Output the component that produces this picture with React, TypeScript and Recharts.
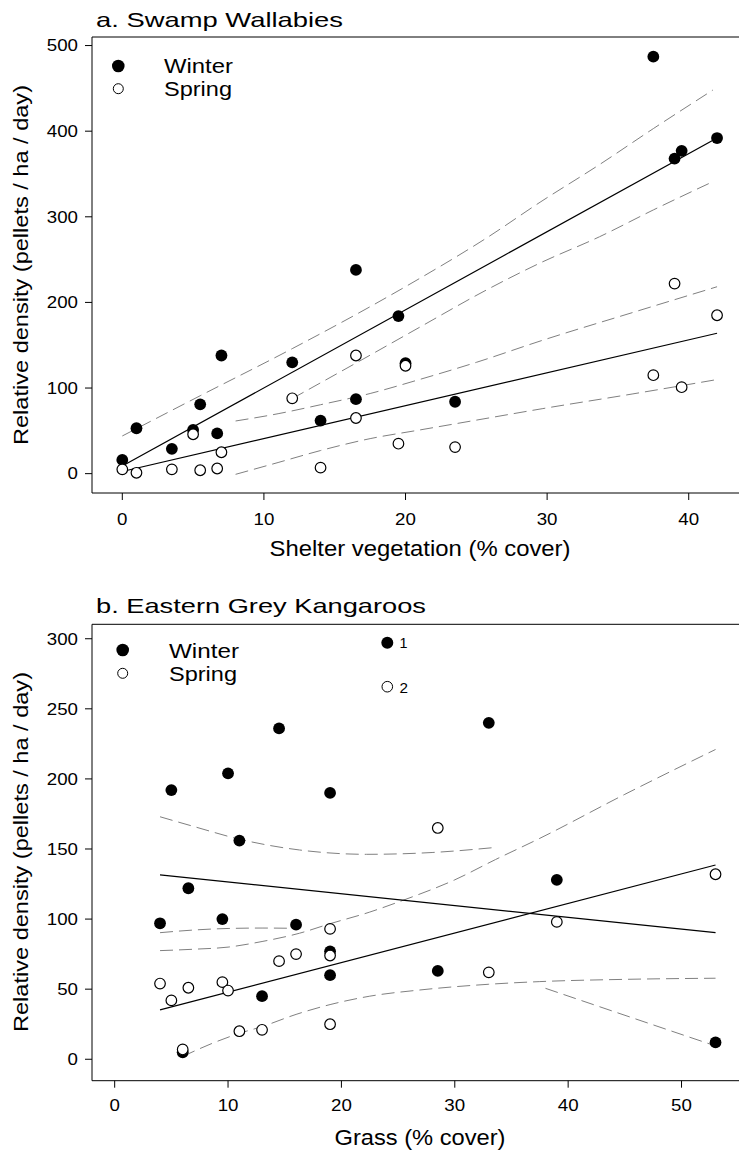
import React from "react";
import { ComposedChart, Scatter, Line, XAxis, YAxis, ReferenceLine } from "recharts";

type Pt = { x: number; y: number };

// a. Swamp Wallabies (x = shelter vegetation % cover, y = pellets / ha / day)
const wallabyWinter: Pt[] = [
  { x: 0, y: 16 }, { x: 1, y: 53 }, { x: 3.5, y: 29 }, { x: 5, y: 51 }, { x: 5.5, y: 81 },
  { x: 6.7, y: 47 }, { x: 7, y: 138 }, { x: 12, y: 130 }, { x: 14, y: 62 }, { x: 16.5, y: 87 },
  { x: 16.5, y: 238 }, { x: 19.5, y: 184 }, { x: 20, y: 129 }, { x: 23.5, y: 84 },
  { x: 37.5, y: 487 }, { x: 39, y: 368 }, { x: 39.5, y: 377 }, { x: 42, y: 392 },
];
const wallabySpring: Pt[] = [
  { x: 0, y: 5 }, { x: 1, y: 1 }, { x: 3.5, y: 5 }, { x: 5, y: 46 }, { x: 5.5, y: 4 },
  { x: 6.7, y: 6 }, { x: 7, y: 25 }, { x: 12, y: 88 }, { x: 14, y: 7 }, { x: 16.5, y: 65 },
  { x: 16.5, y: 138 }, { x: 19.5, y: 35 }, { x: 20, y: 126 }, { x: 23.5, y: 31 },
  { x: 37.5, y: 115 }, { x: 39, y: 222 }, { x: 39.5, y: 101 }, { x: 42, y: 185 },
];
const wallabyWinterFit: Pt[] = [{ x: 0, y: 9 }, { x: 42, y: 392 }];
const wallabySpringFit: Pt[] = [{ x: 0, y: 2.5 }, { x: 42, y: 164 }];
const wallabyWinterUpper: Pt[] = [
  { x: 0, y: 44 }, { x: 5.5, y: 91 }, { x: 12, y: 146 }, { x: 17.5, y: 195 }, { x: 21, y: 228 },
  { x: 25.7, y: 275 }, { x: 29.5, y: 317 }, { x: 33.7, y: 361 }, { x: 37.5, y: 403 }, { x: 41.7, y: 448 },
];
const wallabyWinterLower: Pt[] = [
  { x: 12, y: 87.7 }, { x: 17.5, y: 138.4 }, { x: 21, y: 171 }, { x: 25.7, y: 214.4 },
  { x: 29.5, y: 246 }, { x: 33.7, y: 276.7 }, { x: 37.5, y: 308 }, { x: 41.7, y: 341 },
];
const wallabySpringUpper: Pt[] = [
  { x: 8, y: 61.5 }, { x: 11, y: 70 }, { x: 14, y: 80.5 }, { x: 17.5, y: 93.6 }, { x: 21, y: 110 },
  { x: 25, y: 130 }, { x: 29.7, y: 155.9 }, { x: 36, y: 188 }, { x: 42, y: 218.3 },
];
const wallabySpringLower: Pt[] = [
  { x: 8, y: -0.8 }, { x: 11, y: 13 }, { x: 14, y: 27 }, { x: 17.5, y: 40.9 }, { x: 21, y: 51 },
  { x: 25, y: 62.5 }, { x: 29.7, y: 76 }, { x: 36, y: 93 }, { x: 42, y: 109.9 },
];
const wallabyXTicks = [0, 10, 20, 30, 40];
const wallabyYTicks = [0, 100, 200, 300, 400, 500];

// b. Eastern Grey Kangaroos (x = grass % cover)
const rooWinter: Pt[] = [
  { x: 4, y: 97 }, { x: 5, y: 192 }, { x: 6, y: 5 }, { x: 6.5, y: 122 }, { x: 9.5, y: 100 },
  { x: 10, y: 204 }, { x: 11, y: 156 }, { x: 13, y: 45 }, { x: 14.5, y: 236 }, { x: 16, y: 96 },
  { x: 19, y: 190 }, { x: 19, y: 77 }, { x: 19, y: 60 }, { x: 28.5, y: 63 }, { x: 33, y: 240 },
  { x: 39, y: 128 }, { x: 53, y: 12 },
];
const rooSpring: Pt[] = [
  { x: 4, y: 54 }, { x: 5, y: 42 }, { x: 6, y: 7 }, { x: 6.5, y: 51 }, { x: 9.5, y: 55 },
  { x: 10, y: 49 }, { x: 11, y: 20 }, { x: 13, y: 21 }, { x: 14.5, y: 70 }, { x: 16, y: 75 },
  { x: 19, y: 93 }, { x: 19, y: 74 }, { x: 19, y: 25 }, { x: 28.5, y: 165 }, { x: 33, y: 62 },
  { x: 39, y: 98 }, { x: 53, y: 132 },
];
const rooWinterFit: Pt[] = [{ x: 4, y: 131.5 }, { x: 53, y: 90.3 }];
const rooSpringFit: Pt[] = [{ x: 4, y: 35.2 }, { x: 53, y: 138.6 }];
const rooWinterUpper: Pt[] = [
  { x: 4, y: 173 }, { x: 7, y: 166 }, { x: 11, y: 157 }, { x: 16.3, y: 149.3 }, { x: 22.2, y: 146.2 },
  { x: 28, y: 147.5 }, { x: 33.7, y: 151.2 },
];
const rooWinterLowerA: Pt[] = [
  { x: 4, y: 90.3 }, { x: 7, y: 92.2 }, { x: 10, y: 93.3 }, { x: 13, y: 93.6 }, { x: 16, y: 93.4 },
];
const rooWinterLowerB: Pt[] = [{ x: 38, y: 50.6 }, { x: 45.5, y: 30 }, { x: 53, y: 9.5 }];
const rooSpringUpper: Pt[] = [
  { x: 4, y: 77.5 }, { x: 7, y: 78.5 }, { x: 10, y: 80 }, { x: 13, y: 84 }, { x: 16.3, y: 89.9 },
  { x: 19, y: 96.7 }, { x: 22.5, y: 105 }, { x: 25.5, y: 113.6 }, { x: 30, y: 128 },
  { x: 33.6, y: 142.5 }, { x: 37.5, y: 157.6 }, { x: 45, y: 189 }, { x: 53, y: 221 },
];
const rooSpringLower: Pt[] = [
  { x: 6, y: 2 }, { x: 8.5, y: 11 }, { x: 11, y: 18.5 }, { x: 13, y: 23.3 }, { x: 16, y: 32 },
  { x: 19, y: 39 }, { x: 22.5, y: 45 }, { x: 26.9, y: 49.4 }, { x: 33, y: 53.5 },
  { x: 37.5, y: 55.4 }, { x: 45, y: 57 }, { x: 53, y: 57.8 },
];
const rooXTicks = [0, 10, 20, 30, 40, 50];
const rooYTicks = [0, 50, 100, 150, 200, 250, 300];

const FONT = "'Liberation Sans', Arial, sans-serif";
const DASH = "13 6";
const GREY = "#808080";

function YTick({ x, y, payload }: any) {
  const s = String(payload.value);
  return (
    <text x={x} y={y} dy={5.8} textAnchor="end" fontFamily={FONT} fontSize={16} fill="#000"
      textLength={s.length * 10.4} lengthAdjust="spacingAndGlyphs">{s}</text>
  );
}

function XTick({ x, y, payload }: any) {
  const s = String(payload.value);
  return (
    <text x={x} y={y} dy={11.6} textAnchor="middle" fontFamily={FONT} fontSize={16} fill="#000"
      textLength={s.length * 10.4} lengthAdjust="spacingAndGlyphs">{s}</text>
  );
}

const FilledDot = (p: any) => <circle cx={p.cx} cy={p.cy} r={5.9} fill="#000" />;
const OpenDot = (p: any) => (
  <circle cx={p.cx} cy={p.cy} r={5.3} fill="#fff" stroke="#000" strokeWidth={1.2} />
);

function band(data: Pt[], key: string) {
  return (
    <Line key={key} data={data} dataKey="y" type="monotone" stroke={GREY} strokeWidth={1}
      strokeDasharray={DASH} dot={false} activeDot={false} isAnimationActive={false} />
  );
}
function fit(data: Pt[], key: string) {
  return (
    <Line key={key} data={data} dataKey="y" type="linear" stroke="#000" strokeWidth={1.2}
      dot={false} activeDot={false} isAnimationActive={false} />
  );
}

function T({ x, y, size, len, children, anchor = "start", transform }: any) {
  return (
    <text x={x} y={y} fontFamily={FONT} fontSize={size} fill="#000" textAnchor={anchor}
      textLength={len} lengthAdjust="spacingAndGlyphs" transform={transform}>{children}</text>
  );
}

const axisProps = {
  axisLine: { stroke: "#000", strokeWidth: 1 },
  tickLine: { stroke: "#000", strokeWidth: 1 },
  tickSize: 7,
  allowDataOverflow: true,
};

export default function App() {
  const yLabel = "Relative density (pellets / ha / day)";
  return (
    <div style={{ position: "absolute", left: 0, top: 0, width: 739, height: 1151, background: "#fff" }}>
      <div style={{ position: "absolute", left: 0, top: 0 }}>
        <ComposedChart width={739} height={560} margin={{ top: 37, right: 0, bottom: 0, left: 0 }}>
          <XAxis type="number" dataKey="x" domain={[-2.14, 43.55]} ticks={wallabyXTicks}
            height={67} tickMargin={13} tick={<XTick />} {...axisProps} />
          <YAxis type="number" dataKey="y" domain={[-22.6, 510]} ticks={wallabyYTicks}
            width={92} tickMargin={7} tick={<YTick />} {...axisProps} />
          <ReferenceLine y={510} stroke="#000" strokeWidth={1} />
          {band(wallabyWinterUpper, "wu")}
          {band(wallabyWinterLower, "wl")}
          {band(wallabySpringUpper, "su")}
          {band(wallabySpringLower, "sl")}
          {fit(wallabyWinterFit, "wf")}
          {fit(wallabySpringFit, "sf")}
          <Scatter data={wallabyWinter} dataKey="y" shape={FilledDot} isAnimationActive={false} />
          <Scatter data={wallabySpring} dataKey="y" shape={OpenDot} isAnimationActive={false} />
        </ComposedChart>
      </div>
      <div style={{ position: "absolute", left: 0, top: 560 }}>
        <ComposedChart width={739} height={591} margin={{ top: 64.3, right: 0, bottom: 0, left: 0 }}>
          <XAxis type="number" dataKey="x" domain={[-2, 55.07]} ticks={rooXTicks}
            height={70.3} tickMargin={12} tick={<XTick />} {...axisProps} />
          <YAxis type="number" dataKey="y" domain={[-15.3, 310.3]} ticks={rooYTicks}
            width={92} tickMargin={7} tick={<YTick />} {...axisProps} />
          <ReferenceLine y={310.3} stroke="#000" strokeWidth={1} />
          {band(rooWinterUpper, "wu")}
          {band(rooWinterLowerA, "wla")}
          {band(rooWinterLowerB, "wlb")}
          {band(rooSpringUpper, "su")}
          {band(rooSpringLower, "sl")}
          {fit(rooWinterFit, "wf")}
          {fit(rooSpringFit, "sf")}
          <Scatter data={rooWinter} dataKey="y" shape={FilledDot} isAnimationActive={false} />
          <Scatter data={rooSpring} dataKey="y" shape={OpenDot} isAnimationActive={false} />
        </ComposedChart>
      </div>
      <svg width={739} height={1151} style={{ position: "absolute", left: 0, top: 0, pointerEvents: "none" }}>
        {/* panel a */}
        <T x={96} y={26.5} size={21} len={247}>a. Swamp Wallabies</T>
        <circle cx={118.3} cy={66} r={6.3} fill="#000" />
        <T x={164} y={73.3} size={20} len={69}>Winter</T>
        <circle cx={118.3} cy={88.7} r={5} fill="#fff" stroke="#000" strokeWidth={1} />
        <T x={164} y={96} size={20} len={68}>Spring</T>
        <T x={0} y={0} size={21} len={360} anchor="middle" transform="translate(28,265) rotate(-90)">{yLabel}</T>
        <T x={420} y={556} size={22} len={301} anchor="middle">Shelter vegetation (% cover)</T>

        {/* panel b */}
        <T x={96} y={613.3} size={21} len={330}>b. Eastern Grey Kangaroos</T>
        <circle cx={122.7} cy={650} r={6.3} fill="#000" />
        <T x={169} y={658.3} size={20} len={70}>Winter</T>
        <circle cx={122.7} cy={673.3} r={5} fill="#fff" stroke="#000" strokeWidth={1} />
        <T x={169} y={680.7} size={20} len={68}>Spring</T>
        <circle cx={387.3} cy={642.7} r={6} fill="#000" />
        <T x={399.5} y={647.5} size={15} len={8}>1</T>
        <circle cx={387.3} cy={686.7} r={5.3} fill="#fff" stroke="#000" strokeWidth={1} />
        <T x={399.5} y={692.7} size={15} len={8.5}>2</T>
        <T x={0} y={0} size={21} len={360} anchor="middle" transform="translate(28,852) rotate(-90)">{yLabel}</T>
        <T x={420} y={1145} size={22} len={171} anchor="middle">Grass (% cover)</T>
      </svg>
    </div>
  );
}
